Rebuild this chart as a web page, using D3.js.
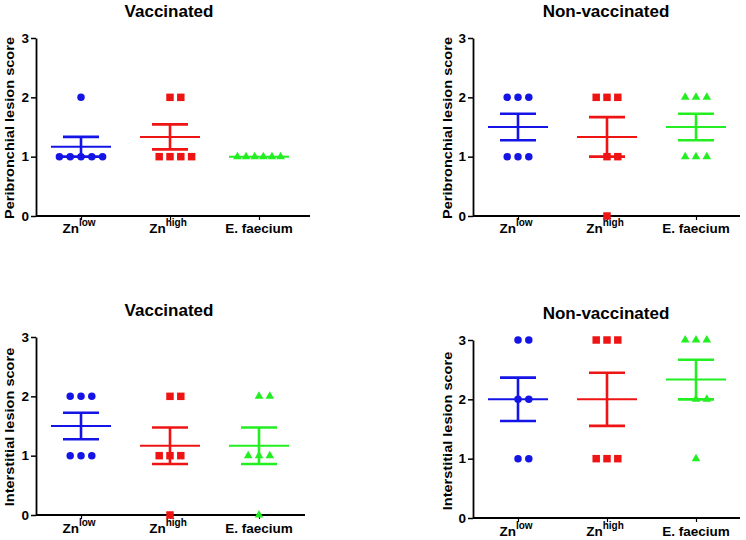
<!DOCTYPE html>
<html>
<head>
<meta charset="utf-8">
<script src="https://cdn.jsdelivr.net/npm/d3@7"></script>
<style>
  html, body { margin: 0; padding: 0; background: #fff; }
  svg { display: block; font-family: "Liberation Sans", Arial, sans-serif; }
</style>
</head>
<body>
<svg id="chart" width="746" height="540"></svg>
<script>
// ---------- data ----------
const categoryBase = ["Zn", "Zn", "E. faecium"];
const categorySup = ["low", "high", ""];
const yTickValues = [0, 1, 2, 3];
const groupColors = ["#1414e6", "#ee1414", "#22ee22"];

// individual lesion scores per group: [Zn low, Zn high, E. faecium]
const periVaccinated = [[2, 1, 1, 1, 1, 1], [2, 2, 1, 1, 1, 1], [1, 1, 1, 1, 1, 1]];
const periNonVaccinated = [[2, 2, 2, 1, 1, 1], [2, 2, 2, 1, 1, 0], [2, 2, 2, 1, 1, 1]];
const interVaccinated = [[2, 2, 2, 1, 1, 1], [2, 2, 1, 1, 1, 0], [2, 2, 1, 1, 1, 0]];
const interNonVaccinated = [[3, 3, 2, 2, 1, 1], [3, 3, 3, 1, 1, 1], [3, 3, 3, 2, 2, 1]];

const panelTitles = ["Vaccinated", "Non-vaccinated", "Vaccinated", "Non-vaccinated"];
const yTitles = ["Peribronchial lesion score", "Peribronchial lesion score",
                 "Interstitial lesion score", "Interstitial lesion score"];

// ---------- layout ----------
const layouts = [
  { ax: 36,  xEnd: 310, yTop: 38,  yBot: 216, titleX: 169, titleY: 17,  yTitleX: 14,  yTitleY: 128, labelY: 233 },
  { ax: 473, xEnd: 740, yTop: 38,  yBot: 216, titleX: 606, titleY: 17,  yTitleX: 452, yTitleY: 128, labelY: 233 },
  { ax: 36,  xEnd: 305, yTop: 337, yBot: 515, titleX: 169, titleY: 316, yTitleX: 14,  yTitleY: 427, labelY: 533 },
  { ax: 473, xEnd: 740, yTop: 340, yBot: 518, titleX: 606, titleY: 319, yTitleX: 452, yTitleY: 431, labelY: 536 }
];
const datasets = [periVaccinated, periNonVaccinated, interVaccinated, interNonVaccinated];
const symbols = [d3.symbolCircle, d3.symbolSquare, d3.symbolTriangle];
const symbolSizes = [44, 56, 32];
const jitterStep = 10.8;

const svg = d3.select("#chart");

function stats(vals) {
  const m = d3.mean(vals);
  const sd = d3.deviation(vals);
  return { mean: m, sem: sd / Math.sqrt(vals.length) };
}

function jitter(vals) {
  // GraphPad-like scatter: points with equal value are placed side by side
  const counts = d3.rollup(vals, v => v.length, v => v);
  const seen = new Map();
  return vals.map(v => {
    const n = counts.get(v);
    const k = seen.get(v) || 0;
    seen.set(v, k + 1);
    if (n > 5) return (k - (n - 1) / 2) * (4 / (n - 1)) * jitterStep;
    return (k - Math.floor((n - 1) / 2)) * jitterStep;
  });
}

layouts.forEach((L, pi) => {
  const g = svg.append("g");
  const data = datasets[pi];

  const x = d3.scalePoint().domain([0, 1, 2]).range([L.ax + 45, L.ax + 223]);
  const y = d3.scaleLinear().domain([0, 3]).range([L.yBot, L.yTop]);

  // title
  g.append("text")
    .attr("x", L.titleX).attr("y", L.titleY)
    .attr("text-anchor", "middle")
    .attr("font-size", 17).attr("font-weight", "bold")
    .text(panelTitles[pi]);

  // y axis title
  g.append("text")
    .attr("transform", `translate(${L.yTitleX},${L.yTitleY}) rotate(-90) scale(1.12,1)`)
    .attr("text-anchor", "middle")
    .attr("font-size", 13).attr("font-weight", "bold")
    .text(yTitles[pi]);

  // y axis
  const yAxis = g.append("g")
    .attr("transform", `translate(${L.ax},0)`)
    .call(d3.axisLeft(y).tickValues(yTickValues).tickFormat(d3.format("d"))
      .tickSize(5).tickSizeOuter(0).tickPadding(2));
  yAxis.select(".domain").attr("stroke-width", 1.8);
  yAxis.selectAll(".tick line").attr("stroke-width", 1.5);
  yAxis.selectAll(".tick text")
    .attr("font-size", 13.5).attr("font-weight", "bold")
    .attr("font-family", "Liberation Sans, Arial, sans-serif").attr("fill", "#000");

  // x axis
  const xAxis = g.append("g")
    .attr("transform", `translate(0,${L.yBot})`)
    .call(d3.axisBottom(x).tickSize(4).tickFormat(""));
  xAxis.select(".domain").remove();
  xAxis.selectAll(".tick line").attr("stroke-width", 1.2);
  g.append("line")
    .attr("x1", L.ax).attr("x2", L.xEnd)
    .attr("y1", L.yBot).attr("y2", L.yBot)
    .attr("stroke", "#000").attr("stroke-width", 1.8);

  // x labels
  [0, 1, 2].forEach(ci => {
    const t = g.append("text")
      .attr("x", x(ci) - (categorySup[ci] ? 2 : 0)).attr("y", L.labelY)
      .attr("text-anchor", "middle")
      .attr("font-size", 13.5).attr("font-weight", "bold");
    t.append("tspan").text(categoryBase[ci]);
    if (categorySup[ci]) {
      t.append("tspan").attr("dy", -7).attr("font-size", 10).text(categorySup[ci]);
    }
  });

  // groups
  data.forEach((vals, ci) => {
    const col = groupColors[ci];
    const cx = x(ci);
    const s = stats(vals);
    const gg = g.append("g");

    // mean line
    gg.append("line")
      .attr("x1", cx - 30).attr("x2", cx + 30)
      .attr("y1", y(s.mean)).attr("y2", y(s.mean))
      .attr("stroke", col).attr("stroke-width", 2);

    if (s.sem > 0) {
      const hi = y(s.mean + s.sem), lo = y(s.mean - s.sem);
      gg.append("line")
        .attr("x1", cx).attr("x2", cx).attr("y1", hi).attr("y2", lo)
        .attr("stroke", col).attr("stroke-width", 2.6);
      [hi, lo].forEach(yy => {
        gg.append("line")
          .attr("x1", cx - 18).attr("x2", cx + 18)
          .attr("y1", yy).attr("y2", yy)
          .attr("stroke", col).attr("stroke-width", 2.6);
      });
    }

    const offs = jitter(vals);
    gg.selectAll("path.pt")
      .data(vals)
      .join("path")
      .attr("class", "pt")
      .attr("d", d3.symbol().type(symbols[ci]).size(symbolSizes[ci]))
      .attr("transform", (d, i) => `translate(${cx + offs[i]},${y(d)})`)
      .attr("fill", col);
  });
});
</script>
</body>
</html>
